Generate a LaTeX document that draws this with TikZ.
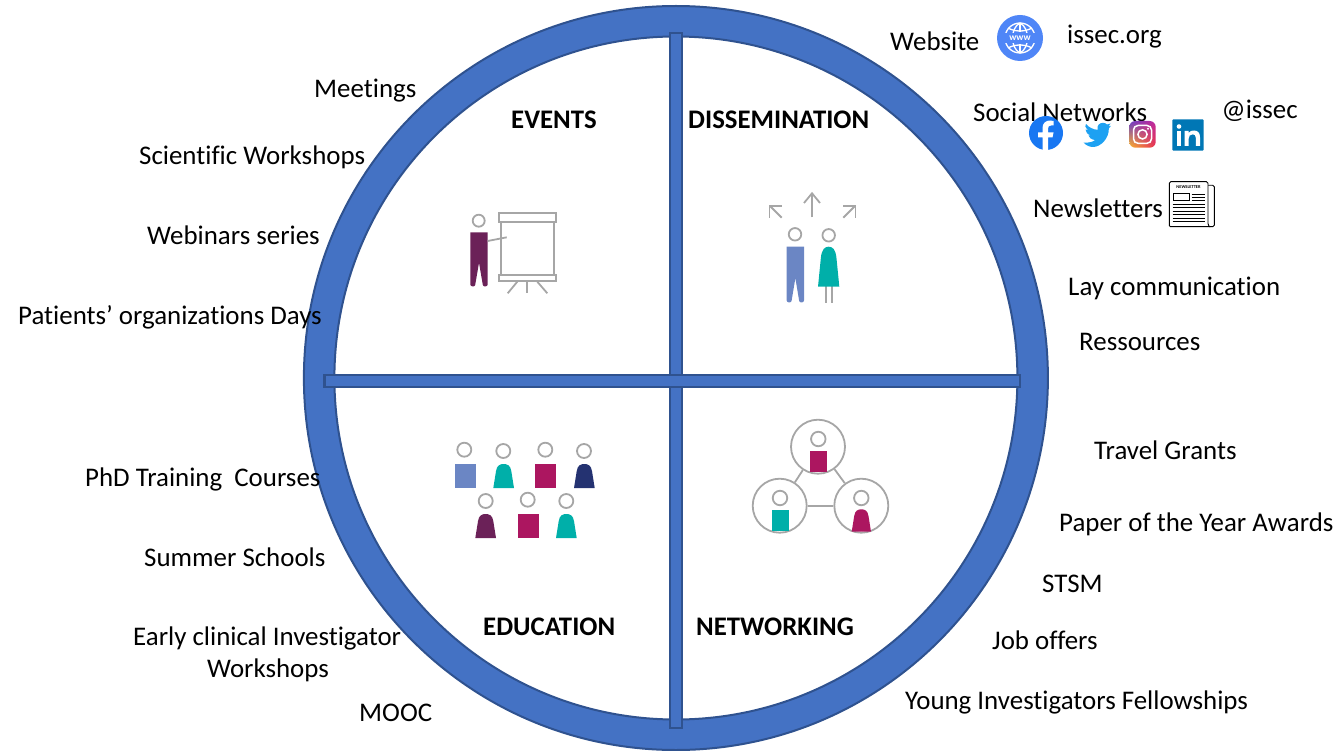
\documentclass[tikz,border=0pt]{standalone}
\usepackage{fontspec}
\usetikzlibrary{shadings}
\setmainfont{Carlito}[Ligatures=NoCommon]
\definecolor{ringblue}{HTML}{4472C4}
\definecolor{ringedge}{HTML}{2F528F}
\definecolor{icongrey}{HTML}{A6A6A6}
\definecolor{ppurple}{HTML}{6B2158}
\definecolor{pblue}{HTML}{6B86C4}
\definecolor{pteal}{HTML}{00AFA9}
\definecolor{pmag}{HTML}{AC1660}
\definecolor{pnavy}{HTML}{243271}
\definecolor{wwwblue}{HTML}{4F86F7}
\definecolor{fbblue}{HTML}{1877F2}
\definecolor{twblue}{HTML}{1DA1F2}
\definecolor{liblue}{HTML}{0077B5}
\definecolor{igA}{HTML}{FDB32B}
\definecolor{igB}{HTML}{E8304F}
\definecolor{igC}{HTML}{6A3FC4}
\definecolor{igD}{HTML}{C5279A}
\tikzset{
  lab/.style={anchor=base west,inner sep=0pt,yshift=-1pt,font=\fontsize{26.9}{28}\selectfont,text=black},
  head/.style={font=\fontsize{26.8}{28}\selectfont\bfseries,anchor=base west,inner sep=0pt,yshift=-1pt,text=black},
  gline/.style={draw=icongrey,line width=1.8pt},
  ghead/.style={circle,draw=icongrey,line width=1.8pt,fill=white,minimum size=#1,inner sep=0pt},
  hub/.style={circle,draw=icongrey,line width=1.8pt,fill=white,minimum size=54pt,inner sep=0pt},
  bar/.style={fill=ringblue,draw=ringedge,line width=2.4pt},
}
% x y width height colour
\newcommand{\squarebody}[5]{\fill[#5] (#1,#2) rectangle ++(#3,#4);}
\newcommand{\womanbody}[5]{\begin{scope}[shift={(#1,#2)},xscale=#3,yscale=#4]
  \fill[#5] (0,1) -- (.13,.3) .. controls (.17,.05) and (.33,0) .. (.5,0) .. controls (.67,0) and (.83,.05) .. (.87,.3) -- (1,1) -- cycle;
\end{scope}}
\newcommand{\manbody}[6]{\begin{scope}[shift={(#1,#2)},xscale=#3,yscale=#4]
  \fill[#5] (0,0) -- (1,0) -- (1,.96) .. controls (1,1) and (.76,1.01) .. (.72,.97) -- (.5,#6) -- (.28,.97) .. controls (.24,1.01) and (0,1) .. (0,.96) -- cycle;
\end{scope}}
\begin{document}
\begin{tikzpicture}[x=1pt,y=-1pt]
\useasboundingbox (0,0) rectangle (1337,751);
\clip (0,0) rectangle (1337,751);
% ring
\path[fill=ringblue,draw=ringedge,line width=2pt,even odd rule] (675.9,378) circle[radius=372pt] (675.9,378) circle[radius=341.5pt];
\path[bar] (670.2,33.2) rectangle (681.8,728);
\path[bar] (324.5,374.7) rectangle (1020,386.9);
% EVENTS icon
\node[ghead=12pt] (evh) at (478.7,220.7) {};
\manbody{470.3}{232.3}{17.4}{54.4}{ppurple}{.56}
\draw[gline] (487.7,241) -- (506.7,237.3);
\draw[gline] (498.7,213.3) rectangle (556,222.3);
\draw[gline] (501.3,222.3) rectangle (554,275.3);
\draw[gline] (498.7,275.3) rectangle (556,280.7);
\draw[gline] (517.3,281.7) -- (507.7,293.3);
\draw[gline] (527.3,281.7) -- (527.3,293.3);
\draw[gline] (537.3,281.7) -- (547.3,293.3);
% DISSEMINATION icon
\node[ghead=12.5pt] (dih1) at (795,234.3) {};
\node[ghead=12.5pt] (dih2) at (828.7,235.3) {};
\manbody{786.7}{246.7}{17.3}{56}{pblue}{.56}
\draw[gline] (825.7,286) -- (825.7,303.3);
\draw[gline] (831.7,286) -- (831.7,303.3);
\womanbody{818}{246.7}{21.3}{40}{pteal}
\draw[gline] (812,217.3) -- (812,194);
\draw[gline] (804,203) -- (812,193.3) -- (820,203);
\draw[gline] (781.7,217.7) -- (770,206);
\draw[gline] (769.5,217.7) -- (769.5,206) -- (781.7,206);
\draw[gline] (843.3,217.7) -- (855,206);
\draw[gline] (843.3,206) -- (855.5,206) -- (855.5,217.7);
% EDUCATION icon
\node[ghead=14pt] (e1) at (464.3,449.7) {};
\node[ghead=14pt] (e2) at (503.3,451) {};
\node[ghead=14pt] (e3) at (545.3,449.7) {};
\node[ghead=14pt] (e4) at (584,451) {};
\node[ghead=14pt] (e5) at (485.7,501) {};
\node[ghead=14pt] (e6) at (527.7,499.7) {};
\node[ghead=14pt] (e7) at (566.3,501) {};
\squarebody{455}{464}{21}{24}{pblue}
\womanbody{493.3}{464}{20.7}{24}{pteal}
\squarebody{535}{464}{21}{24}{pmag}
\womanbody{574}{464}{20.7}{24}{pnavy}
\womanbody{475.3}{514}{20.7}{24}{ppurple}
\squarebody{518}{514}{21}{24}{pmag}
\womanbody{556}{514}{20.7}{24}{pteal}
% NETWORKING icon
\node[hub] (n1) at (818,446.7) {};
\node[hub] (n2) at (779.7,505.7) {};
\node[hub] (n3) at (861.3,505.7) {};
\draw[gline] (n1) -- (n2);
\draw[gline] (n1) -- (n3);
\draw[gline] (n2) -- (n3);
\node[ghead=14.5pt] (nh1) at (818.3,439) {};
\node[ghead=14.5pt] (nh2) at (780,498) {};
\node[ghead=14.5pt] (nh3) at (861.3,498) {};
\squarebody{810}{451.3}{17}{20.7}{pmag}
\squarebody{771.7}{510.3}{17}{20.4}{pteal}
\womanbody{851.7}{509.3}{19.3}{22.4}{pmag}
% headings
\node[head] (hev) at (511,128) {EVENTS};
\node[head] (hdi) at (688,128) {DISSEMINATION};
\node[head] (hed) at (483,634) {EDUCATION};
\node[head] (hne) at (696,634) {NETWORKING};
% left labels
\node[lab] (l1) at (314,97) {Meetings};
\node[lab] (l2) at (139,164) {Scientific Workshops};
\node[lab] (l3) at (147,243) {Webinars series};
\node[lab] (l4) at (18,323) {Patients’ organizations Days};
\node[lab] (l5) at (85,485) {PhD Training~ Courses};
\node[lab] (l6) at (144,565) {Summer Schools};
\node[lab] (l7) at (133,644) {Early clinical Investigator};
\node[lab] (l8) at (207,676) {Workshops};
\node[lab] (l9) at (359,720) {MOOC};
% right labels
\node[lab] (r1) at (890,50) {Website};
\node[lab] (r2) at (1067,43) {issec.org};
\node[lab] (r3) at (973,121) {Social Networks};
\node[lab] (r4) at (1221.5,118) {@issec};
\node[lab] (r5) at (1033,217) {Newsletters};
\node[lab] (r6) at (1068,294) {Lay communication};
\node[lab] (r7) at (1079,349) {Ressources};
\node[lab] (r8) at (1094,458) {Travel Grants};
\node[lab] (r9) at (1059,530) {Paper of the Year Awards};
\node[lab] (r10) at (1042,591) {STSM};
\node[lab] (r11) at (992,648) {Job offers};
\node[lab] (r12) at (905,708) {Young Investigators Fellowships};
% www globe
\fill[wwwblue] (1020,38) circle[radius=23pt];
\begin{scope}[draw=white,line width=1.3pt]
  \draw (1020,38) circle[radius=15pt];
  \draw (1008,28) .. controls (1015,32) and (1025,32) .. (1032,28);
  \draw (1008,48) .. controls (1015,44) and (1025,44) .. (1032,48);
  \draw (1020,23) .. controls (1010,28) and (1010,48) .. (1020,53);
  \draw (1020,23) .. controls (1030,28) and (1030,48) .. (1020,53);
  \draw (1020,23) -- (1020,32);
  \draw (1020,44) -- (1020,53);
\end{scope}
\fill[wwwblue] (1003,33) rectangle (1037,43);
\node[inner sep=0pt,text=white,font=\fontsize{9.5}{9.5}\selectfont\bfseries] (www) at (1020,38) {www};
% facebook
\fill[fbblue] (1046,133) circle[radius=17pt];
\fill[white] (1042.5,150) -- (1042.5,137.5) -- (1038,137.5) -- (1038,132.5) -- (1042.5,132.5) -- (1042.5,128) .. controls (1042.5,123) and (1046,120.5) .. (1050,120.5) -- (1053.5,121) -- (1053.5,125.5) -- (1051,125.5) .. controls (1049,125.5) and (1048,126.5) .. (1048,128.5) -- (1048,132.5) -- (1053.5,132.5) -- (1052.5,137.5) -- (1048,137.5) -- (1048,150) -- cycle;
% twitter
\fill[twblue] (1083.5,142.5) .. controls (1090,143) and (1093.5,141.5) .. (1095,140)
  .. controls (1091,139.5) and (1089,137.5) .. (1088.5,135.5) -- (1091,135.5)
  .. controls (1087.5,134.5) and (1085.5,132) .. (1085.5,129.5) -- (1088,130)
  .. controls (1085,127.5) and (1084.5,125) .. (1086,124)
  .. controls (1089,127.5) and (1093,129.5) .. (1097.5,129.8)
  .. controls (1096.5,125) and (1100,122.8) .. (1103,122.8)
  .. controls (1105,122.8) and (1106,123.6) .. (1107,124.5) -- (1110.5,123.5) -- (1108.5,126.5) -- (1111,125.8) -- (1108.8,128.5)
  .. controls (1109.2,138) and (1101,147) .. (1093,147) .. controls (1090,147) and (1086,145.5) .. (1083.5,142.5) -- cycle;
% instagram
\shade[rounded corners=6pt,lower left=igA,lower right=igB,upper left=igC,upper right=igD] (1129.3,121) rectangle (1155.7,147.7);
\draw[white,line width=1.5pt,rounded corners=4.5pt] (1133.5,125.5) rectangle (1151.5,143.3);
\draw[white,line width=1.5pt] (1142.5,134.4) circle[radius=4.6pt];
\fill[white] (1148,128.8) circle[radius=1.1pt];
% linkedin
\fill[liblue,rounded corners=1pt] (1172.3,119.3) rectangle (1203.7,150.7);
\fill[white] (1179,126.5) circle[radius=2.3pt];
\fill[white] (1176.9,131) rectangle (1181.1,146);
\fill[white] (1184.5,131) -- (1188.5,131) -- (1188.5,133) .. controls (1190,130.8) and (1192,130.5) .. (1194,130.5) .. controls (1198,130.5) and (1200,133) .. (1200,137.5) -- (1200,146) -- (1195.8,146) -- (1195.8,138) .. controls (1195.8,135.5) and (1194.8,134.3) .. (1192.8,134.3) .. controls (1190,134.3) and (1188.7,136) .. (1188.7,138.5) -- (1188.7,146) -- (1184.5,146) -- cycle;
% newsletter
\draw[black,line width=.9pt,rounded corners=1.5pt,fill=white] (1208,185.3) -- (1214.3,185.3) -- (1214.3,226.7) -- (1209,226.7);
\draw[black,line width=.9pt,fill=white,rounded corners=1.5pt] (1169.3,181.7) -- (1208,181.7) -- (1208,222) .. controls (1208,225) and (1209.5,226.7) .. (1211,226.7) -- (1172,226.7) .. controls (1170.3,226.7) and (1169.3,225.5) .. (1169.3,224) -- cycle;
\node[inner sep=0pt,font=\fontsize{4.4}{5}\selectfont\bfseries] (nlt) at (1188.5,186.7) {NEWSLETTER};
\draw[black,line width=.8pt] (1173,193.3) rectangle (1189,200.3);
\foreach \yy in {194,197.5,200.5}{\draw[black,line width=.8pt] (1191.5,\yy) -- (1205,\yy);}
\foreach \yy in {204,207.5,211,214.5,218,221.5}{\draw[black,line width=.8pt] (1172.5,\yy) -- (1205,\yy);}
\end{tikzpicture}
\end{document}
